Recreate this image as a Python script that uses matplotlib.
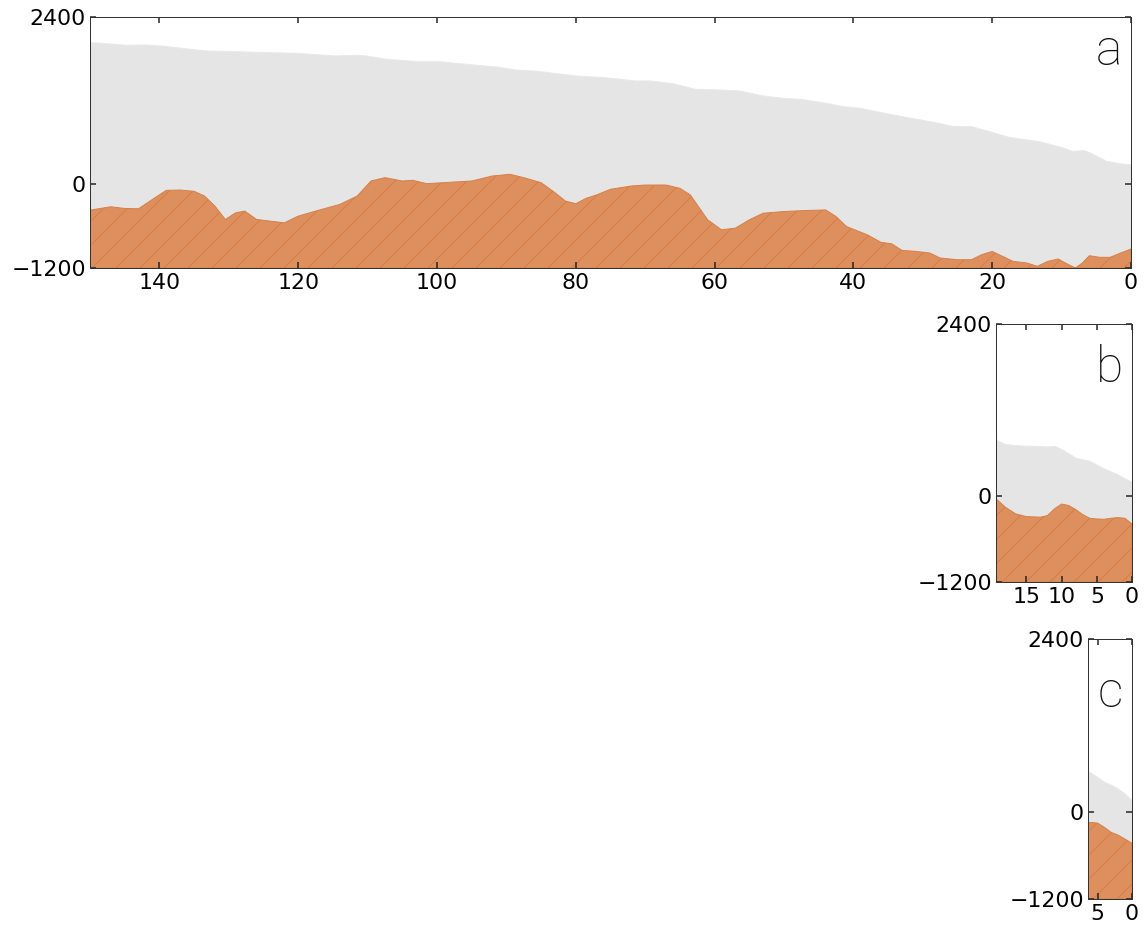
import matplotlib
matplotlib.use("Agg")
import matplotlib.pyplot as plt
import matplotlib.transforms as mtransforms

# profile a: surface and bed elevation (m) against distance (km)
a_surf_x = [150, 146.5, 144.9, 142.1, 139.9, 135.5, 133.3, 128.9, 124.5, 120.1, 114.6, 111.8,
            110.2, 107.4, 102.5, 99.7, 96.9, 91.4, 88.7, 85.9, 80.0, 75.8, 71.5, 69.3, 66.1,
            62.9, 59.6, 56.4, 53.2, 49.9, 47.8, 44.6, 41.3, 39.2, 34.9, 31.6, 28.4, 25.7, 23.0,
            20.9, 17.6, 13.3, 10.1, 8.5, 6.8, 5.8, 3.6, 1.5, 0]
a_surf_y = [2040, 2016, 2002, 2006, 1992, 1944, 1920, 1910, 1896, 1886, 1848, 1858,
            1848, 1800, 1766, 1766, 1738, 1690, 1646, 1632, 1561, 1537, 1490, 1490, 1452,
            1371, 1361, 1347, 1276, 1238, 1228, 1180, 1119, 1100, 1014, 952, 895, 838, 833,
            776, 681, 619, 538, 481, 490, 452, 338, 300, 286]
a_bed_x = [150, 147, 145, 143, 141, 139, 137, 135, 133.5, 132, 130.5, 129, 127.7, 126, 124,
           122, 120, 117, 114, 111.5, 109.5, 107.5, 105, 103.5, 101.5, 99, 95, 92, 89.5,
           87.5, 85, 83, 81.5, 80, 78.5, 77, 75, 72, 70, 67, 65, 63.5, 61, 59, 57, 55, 53,
           50, 47, 44, 42.5, 41, 38, 36, 34.5, 33, 31, 29, 27.5, 25, 23, 21.5, 20, 18.5, 17,
           15, 13.5, 12, 10.5, 9, 8, 7, 6, 4.5, 3, 1.5, 0]
a_bed_y = [-370, -322, -346, -350, -216, -86, -82, -100, -168, -312, -504, -408, -384, -504,
           -528, -552, -456, -370, -288, -168, 48, 96, 48, 58, 10, 24, 48, 120, 144, 96, 24,
           -120, -240, -278, -200, -152, -71, -24, -10, -10, -57, -152, -509, -652, -628,
           -509, -414, -390, -376, -367, -462, -605, -724, -833, -852, -947, -962, -985,
           -1057, -1081, -1081, -1009, -962, -1033, -1105, -1128, -1176, -1105, -1071,
           -1152, -1200, -1128, -1024, -1047, -1047, -985, -928]

# profile b
b_surf_x = [19.3, 18, 16, 14, 12, 11, 10, 8, 6, 4, 2, 1, 0]
b_surf_y = [786, 725, 706, 701, 692, 701, 654, 536, 489, 386, 301, 245, 198]
b_bed_x = [19.3, 18, 16.5, 15, 13, 12, 11, 10, 9, 8, 7, 6, 5, 4, 3, 2, 1, 0.3, 0]
b_bed_y = [-38, -155, -250, -287, -296, -273, -179, -113, -132, -188, -259, -311, -320,
           -325, -311, -301, -311, -367, -390]

# profile c
c_surf_x = [6.4, 6, 5, 4, 3, 2, 1, 0]
c_surf_y = [567, 549, 488, 419, 381, 326, 256, 163]
c_bed_x = [6.4, 6, 5, 4, 3, 2, 1, 0]
c_bed_y = [-149, -140, -149, -209, -279, -316, -372, -428]

YMIN, YMAX = -1200, 2400

W, H, DPI = 1147, 926, 72
plt.rcParams["hatch.color"] = "#c9631f"
plt.rcParams["hatch.linewidth"] = 1.2
plt.rcParams["axes.linewidth"] = 1.0

fig = plt.figure(figsize=(W / DPI, H / DPI), dpi=DPI)


def box(left, top, right, bottom):
    return [left / W, 1 - bottom / H, (right - left) / W, (bottom - top) / H]


def panel(rect, xmax, xticks, sx, sy, bx, by, letter, base_off):
    ax = fig.add_axes(rect)
    ax.fill_between(sx, sy, YMIN, facecolor="#e5e5e5", edgecolor="#e9e9e9", lw=1)
    ax.fill_between(bx, by, YMIN, facecolor="#de8f5e", edgecolor="#d6814a",
                    hatch="/", lw=1)
    ax.set_xlim(xmax, 0)
    ax.set_ylim(YMIN, YMAX)
    ax.set_xticks(xticks)
    ax.set_yticks([-1200, 0, 2400])
    ax.tick_params(direction="in", top=True, right=True, length=6, width=1.5,
                   labelsize=22, color="#222222")
    ax.tick_params(axis="x", pad=5)
    ax.tick_params(axis="y", pad=4)
    for s in ax.spines.values():
        s.set_color("#333333")
    off = mtransforms.offset_copy(ax.transAxes, fig=fig, x=-9, y=-base_off, units="dots")
    ax.text(1, 1, letter, transform=off, ha="right", va="baseline",
            fontsize=50, family="Roboto", fontweight="light", color="#111111")
    return ax


panel(box(90, 17, 1131, 268), 150, [140, 120, 100, 80, 60, 40, 20, 0],
      a_surf_x, a_surf_y, a_bed_x, a_bed_y, "a", 48)
panel(box(996, 324, 1132, 582), 19.3, [15, 10, 5, 0],
      b_surf_x, b_surf_y, b_bed_x, b_bed_y, "b", 58)
panel(box(1088, 639, 1132, 899), 6.4, [5, 0],
      c_surf_x, c_surf_y, c_bed_x, c_bed_y, "c", 68)

fig.savefig("out.png", dpi=DPI)
